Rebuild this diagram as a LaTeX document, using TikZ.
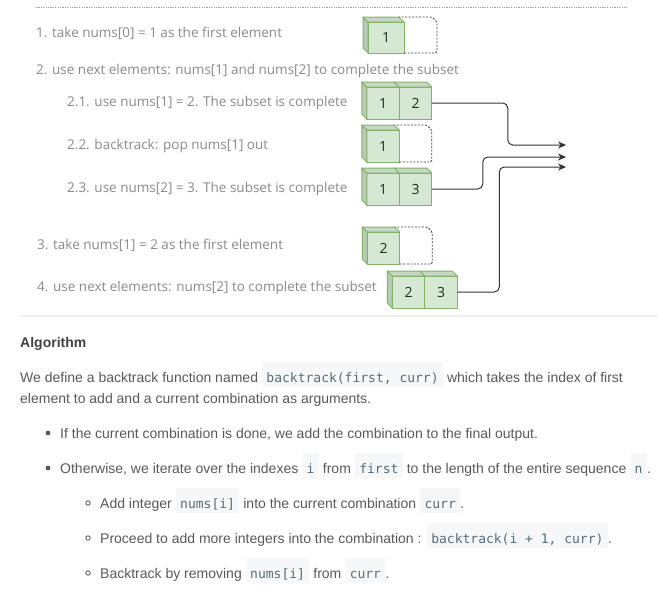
\documentclass[tikz,border=0pt]{standalone}
\usepackage{fontspec}
\setmainfont{Liberation Sans}
\newfontfamily\diagfont{Open Sans}
\newfontfamily\codefont{DejaVu Sans Mono}
\usetikzlibrary{arrows.meta, positioning, calc}
\definecolor{cubefill}{HTML}{D5E8D4}
\definecolor{cubeedge}{HTML}{82B366}
\definecolor{cubetopc}{HTML}{C6D8C5}
\definecolor{cubesidec}{HTML}{B7CBB6}
\definecolor{stepgrey}{HTML}{8A8A8A}
\definecolor{bodygrey}{HTML}{595959}
\definecolor{headgrey}{HTML}{424242}
\definecolor{codebg}{HTML}{F5F7F9}
\definecolor{codefg}{HTML}{546E7A}
\definecolor{sepgrey}{HTML}{F0F0F0}

% inline code chip
\newcommand{\code}[1]{{\setlength{\fboxsep}{0pt}\colorbox{codebg}{\rule[-5pt]{0pt}{25pt}\hspace{4.5pt}\textcolor{codefg}{\fontsize{13}{15}\codefont #1}\hspace{4.5pt}}}}
% side faces of a cube cell
\newcommand{\cubetop}[1]{%
  \filldraw[fill=cubetopc, draw=cubeedge, line width=1pt, line join=round] (#1.north west) -- ++(-5,-5) -- ($(#1.north east)+(-5,-5)$) -- (#1.north east) -- cycle;}
\newcommand{\cubesides}[1]{%
  \filldraw[fill=cubesidec, draw=cubeedge, line width=1pt, line join=round] (#1.north west) -- ++(-5,-5) -- ($(#1.south west)+(-5,-5)$) -- (#1.south west) -- cycle;
  \cubetop{#1}}
% empty dashed slot next to a cell
\newcommand{\slot}[2]{%
  \draw[black!75, line width=0.8pt, dash pattern=on 2pt off 1.5pt, rounded corners=1.5pt] (#1.south east) -- ($(#1.south east)+(#2,0)$) -- ($(#1.north east)+(#2,0)$) -- ($(#1.north east)+(#2-5,-5)$) -- ($(#1.north east)+(-5,-5)$);}

\tikzset{
  cell/.style={draw=cubeedge, fill=cubefill, line width=1pt, minimum width=32.5, minimum height=32, inner sep=0, outer sep=0, font=\diagfont\fontsize{14}{16}\selectfont, text=black!85},
  steptext/.style={anchor=west, inner sep=0, font=\diagfont\fontsize{13.5}{16}\selectfont, text=stepgrey},
  bodytext/.style={anchor=base west, inner sep=0, font=\fontsize{14}{17}\selectfont, text=bodygrey},
  flow/.style={black!80, line width=1pt, rounded corners=5pt, -{Stealth[length=8pt, width=7pt]}}
}

\begin{document}
\begin{tikzpicture}[x=1pt, y=-1pt]
  \useasboundingbox (0,0) rectangle (663,600);
  \fill[white] (0,0) rectangle (663,600);

  % dotted rule above the steps
  \draw[black!40, dash pattern=on 1.2pt off 1.2pt] (36,7) -- (627,7);

  % step descriptions
  \node[steptext] (s1) at (36,33) {1. take nums[0] = 1 as the first element};
  \node[steptext] (s2) at (36,71) {2. use next elements: nums[1] and nums[2] to complete the subset};
  \node[steptext] (s21) at (67,103) {2.1. use nums[1] = 2. The subset is complete};
  \node[steptext] (s22) at (67,146) {2.2. backtrack: pop nums[1] out};
  \node[steptext] (s23) at (67,189) {2.3. use nums[2] = 3. The subset is complete};
  \node[steptext] (s3) at (37,245) {3. take nums[1] = 2 as the first element};
  \node[steptext] (s4) at (37,288) {4. use next elements: nums[2] to complete the subset};

  % step 1: [1, _]
  \node[cell, minimum width=36, minimum height=31] (c1a) at (386,37.5) {1};
  \cubesides{c1a}
  \slot{c1a}{33}

  % step 2.1: [1, 2]
  \node[cell] (c21a) at (383,103) {1};
  \cubesides{c21a}
  \node[cell, right=0pt of c21a] (c21b) {2};
  \cubetop{c21b}

  % step 2.2: [1, _]
  \node[cell] (c22a) at (383,146) {1};
  \cubesides{c22a}
  \slot{c22a}{32.5}

  % step 2.3: [1, 3]
  \node[cell] (c23a) at (383,189) {1};
  \cubesides{c23a}
  \node[cell, right=0pt of c23a] (c23b) {3};
  \cubetop{c23b}

  % step 3: [2, _]
  \node[cell] (c3a) at (383.5,248) {2};
  \cubesides{c3a}
  \slot{c3a}{32.5}

  % step 4: [2, 3]
  \node[cell] (c4a) at (408.5,292) {2};
  \cubesides{c4a}
  \node[cell, right=0pt of c4a] (c4b) {3};
  \cubetop{c4b}

  % complete subsets go to the output
  \coordinate (out1) at (566,145);
  \coordinate (out2) at (566,157);
  \coordinate (out3) at (566,167);
  \draw[flow] (c21b.east) -- ++(76,0) |- (out1);
  \draw[flow] (c23b.east) -- ++(51,0) |- (out2);
  \draw[flow] (c4b.east) -- ++(42,0) |- (out3);

  % separator
  \draw[sepgrey, line width=2pt] (20,316) -- (658,316);

  % algorithm text
  \node[bodytext, font=\fontsize{14}{17}\selectfont\bfseries, text=headgrey] (head) at (20,347) {Algorithm};
  \node[bodytext] (p1) at (20,382) {We define a backtrack function named \code{backtrack(first, curr)} which takes the index of first};
  \node[bodytext] (p2) at (20,403) {element to add and a current combination as arguments.};

  \fill[bodygrey] (48,433) circle (2.4);
  \node[bodytext] (b1) at (60,438) {If the current combination is done, we add the combination to the final output.};
  \fill[bodygrey] (48,468) circle (2.4);
  \node[bodytext] (b2) at (60,473) {Otherwise, we iterate over the indexes \code{i} from \code{first} to the length of the entire sequence \code{n}.};

  \draw[bodygrey, line width=0.9pt] (88,503) circle (2.2);
  \node[bodytext] (b21) at (100,508) {Add integer \code{nums[i]} into the current combination \code{curr}.};
  \draw[bodygrey, line width=0.9pt] (88,538) circle (2.2);
  \node[bodytext] (b22) at (100,543) {Proceed to add more integers into the combination : \code{backtrack(i + 1, curr)}.};
  \draw[bodygrey, line width=0.9pt] (88,573) circle (2.2);
  \node[bodytext] (b23) at (100,578) {Backtrack by removing \code{nums[i]} from \code{curr}.};
\end{tikzpicture}
\end{document}
